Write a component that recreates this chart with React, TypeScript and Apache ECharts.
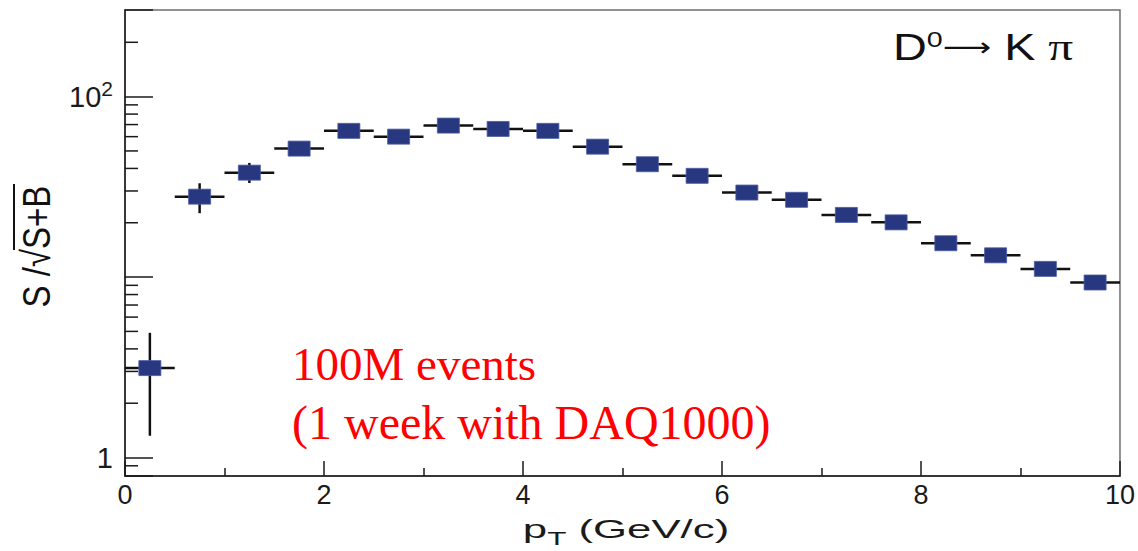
import React, { useEffect, useRef } from "react";
import * as echarts from "echarts";

// pT bin centres (GeV/c)
const pT = [0.25, 0.75, 1.25, 1.75, 2.25, 2.75, 3.25, 3.75, 4.25, 4.75, 5.25, 5.75, 6.25, 6.75, 7.25, 7.75, 8.25, 8.75, 9.25, 9.75];
// S / sqrt(S+B)
const snr = [3.13, 27.9, 37.9, 51.5, 64.6, 60.0, 69.1, 66.2, 64.6, 52.8, 42.2, 36.4, 29.4, 26.8, 22.1, 20.1, 15.4, 13.2, 11.1, 9.33];
const errLow = [1.32, 22.6, 33.2, 48.6, 62.3, 58.2, 67.0, 64.6, 63.2, 51.8, 41.4, 35.8, 28.9, 26.4, 21.8, 19.8, 15.2, 13.0, 10.95, 9.2];
const errHigh = [4.91, 33.1, 42.9, 54.6, 67.0, 61.8, 71.2, 67.8, 66.0, 53.9, 43.0, 37.0, 29.9, 27.2, 22.4, 20.4, 15.6, 13.4, 11.25, 9.45];
const binHalfWidth = 0.25;

const xTicks = { min: 0, max: 10, interval: 2 };
const yRange = { min: 0.79, max: 302 };
const yMinorTicks = [0.9, 2, 3, 4, 5, 6, 7, 8, 9, 20, 30, 40, 50, 60, 70, 80, 90, 200];

const annotationLines = ["100M events", "(1 week with DAQ1000)"];

export default function App() {
  const ref = useRef<HTMLDivElement>(null);

  useEffect(() => {
    const chart = echarts.init(ref.current!, null, { renderer: "svg" });
    const axisColor = "#1a1a1a";
    const sans = '"Liberation Sans", Arial, sans-serif';
    const serif = '"Liberation Serif", "Times New Roman", serif';

    const option: any = {
      animation: false,
      backgroundColor: "#ffffff",
      grid: {
        left: 125,
        top: 10,
        width: 995,
        height: 466,
        show: true,
        borderColor: "#6e6e6e",
        borderWidth: 1.5,
        backgroundColor: "transparent",
      },
      xAxis: {
        type: "value",
        min: xTicks.min,
        max: xTicks.max,
        interval: xTicks.interval,
        axisLine: { show: true, lineStyle: { color: axisColor, width: 1.5 } },
        axisTick: { show: true, inside: true, length: 15, lineStyle: { color: axisColor, width: 1.5 } },
        minorTick: { show: true, splitNumber: 2, length: 8, lineStyle: { color: axisColor, width: 1.5 } },
        splitLine: { show: false },
        axisLabel: { fontSize: 27, color: "#1a1a1a", fontFamily: sans, margin: 5 },
      },
      yAxis: {
        type: "log",
        logBase: 10,
        min: yRange.min,
        max: yRange.max,
        axisLine: { show: true, lineStyle: { color: axisColor, width: 1.5 } },
        axisTick: { show: true, inside: true, length: 28, lineStyle: { color: axisColor, width: 1.5 } },
        minorTick: { show: false },
        splitLine: { show: false },
        axisLabel: {
          margin: 12,
          fontSize: 29,
          fontFamily: sans,
          color: "#1a1a1a",
          formatter: (v: number) => {
            if (Math.abs(v - 1) < 1e-6) return "{b|1}";
            if (Math.abs(v - 100) < 1e-4) return "{b|10}{s|2}";
            return "";
          },
          rich: {
            b: { fontSize: 29, fontFamily: sans, color: "#1a1a1a", lineHeight: 38 },
            s: { fontSize: 21, fontFamily: sans, color: "#1a1a1a", lineHeight: 21, verticalAlign: "top" },
          },
        },
      },
      series: [
        {
          type: "custom",
          name: "yMinorTicks",
          silent: true,
          clip: false,
          z: 3,
          data: yMinorTicks.map((v) => [xTicks.min, v]),
          encode: { x: 0, y: 1 },
          renderItem: (_p: any, api: any) => {
            const p = api.coord([api.value(0), api.value(1)]);
            return {
              type: "line",
              shape: { x1: p[0], y1: p[1], x2: p[0] + 13, y2: p[1] },
              style: { stroke: axisColor, lineWidth: 1.5 },
            };
          },
        },
        {
          type: "custom",
          name: "errors",
          silent: true,
          clip: false,
          z: 4,
          data: pT.map((x, i) => [x, snr[i], errLow[i], errHigh[i]]),
          encode: { x: 0, y: 1 },
          renderItem: (_p: any, api: any) => {
            const x = api.value(0);
            const y = api.value(1);
            const l = api.coord([x - binHalfWidth, y]);
            const r = api.coord([x + binHalfWidth, y]);
            const lo = api.coord([x, api.value(2)]);
            const hi = api.coord([x, api.value(3)]);
            return {
              type: "group",
              children: [
                { type: "line", shape: { x1: l[0], y1: l[1], x2: r[0], y2: r[1] }, style: { stroke: "#111", lineWidth: 2.5 } },
                { type: "line", shape: { x1: lo[0], y1: lo[1], x2: hi[0], y2: hi[1] }, style: { stroke: "#111", lineWidth: 2.5 } },
              ],
            };
          },
        },
        {
          type: "scatter",
          name: "S/sqrt(S+B)",
          z: 5,
          symbol: "rect",
          symbolSize: [22, 15],
          itemStyle: { color: "#283880", borderColor: "#4a5aa2", borderWidth: 0.8, opacity: 1 },
          data: pT.map((x, i) => [x, snr[i]]),
        },
      ],
      graphic: [
        {
          type: "text",
          x: 36,
          y: 249,
          rotation: Math.PI / 2,
          scaleY: 1.2,
          style: { text: "S /√", font: `33px ${sans}`, fill: "#111", align: "right", textAlign: "right", verticalAlign: "middle", textVerticalAlign: "middle" },
        },
        {
          type: "text",
          x: 36,
          y: 249,
          rotation: Math.PI / 2,
          scaleY: 1.2,
          style: { text: "S+B", font: `33px ${sans}`, fill: "#111", align: "left", textAlign: "left", verticalAlign: "middle", textVerticalAlign: "middle" },
        },
        {
          type: "line",
          shape: { x1: 14, y1: 250, x2: 14, y2: 184 },
          style: { stroke: "#111", lineWidth: 2 },
        },
        {
          type: "text",
          x: 626,
          y: 530,
          scaleX: 1.75,
          style: {
            text: "{n|p}{t|T}{n| (GeV/c)}",
            align: "center",
            textAlign: "center",
            verticalAlign: "middle",
            textVerticalAlign: "middle",
            rich: {
              n: { fontSize: 25, fontFamily: sans, fill: "#1a1a1a", color: "#1a1a1a", lineHeight: 36 },
              t: { fontSize: 18, fontFamily: sans, fill: "#1a1a1a", color: "#1a1a1a", lineHeight: 18, verticalAlign: "bottom" },
            },
          },
        },
        {
          type: "text",
          x: 893,
          y: 47,
          scaleX: 1.3,
          style: {
            text: "{d|D}{s|0}{a|⟶}{d| K }{p|π}",
            align: "left",
            textAlign: "left",
            verticalAlign: "middle",
            textVerticalAlign: "middle",
            rich: {
              d: { fontSize: 36, fontFamily: sans, color: "#111", fill: "#111", lineHeight: 38 },
              s: { fontSize: 22, fontFamily: sans, color: "#111", fill: "#111", lineHeight: 22, verticalAlign: "top" },
              a: { fontSize: 26, fontFamily: '"DejaVu Sans", sans-serif', color: "#111", fill: "#111", lineHeight: 38 },
              p: { fontSize: 38, fontFamily: serif, color: "#111", fill: "#111", lineHeight: 38 },
            },
          },
        },
        {
          type: "text",
          x: 292,
          y: 364,
          style: { text: annotationLines[0], font: `47px ${serif}`, fill: "#ff0000", align: "left", textAlign: "left", verticalAlign: "middle", textVerticalAlign: "middle" },
        },
        {
          type: "text",
          x: 292,
          y: 422,
          style: { text: annotationLines[1], font: `48px ${serif}`, fill: "#ff0000", align: "left", textAlign: "left", verticalAlign: "middle", textVerticalAlign: "middle" },
        },
      ],
    };

    chart.setOption(option);
    return () => chart.dispose();
  }, []);

  return <div ref={ref} style={{ position: "fixed", left: 0, top: 0, width: 1138, height: 551 }} />;
}
